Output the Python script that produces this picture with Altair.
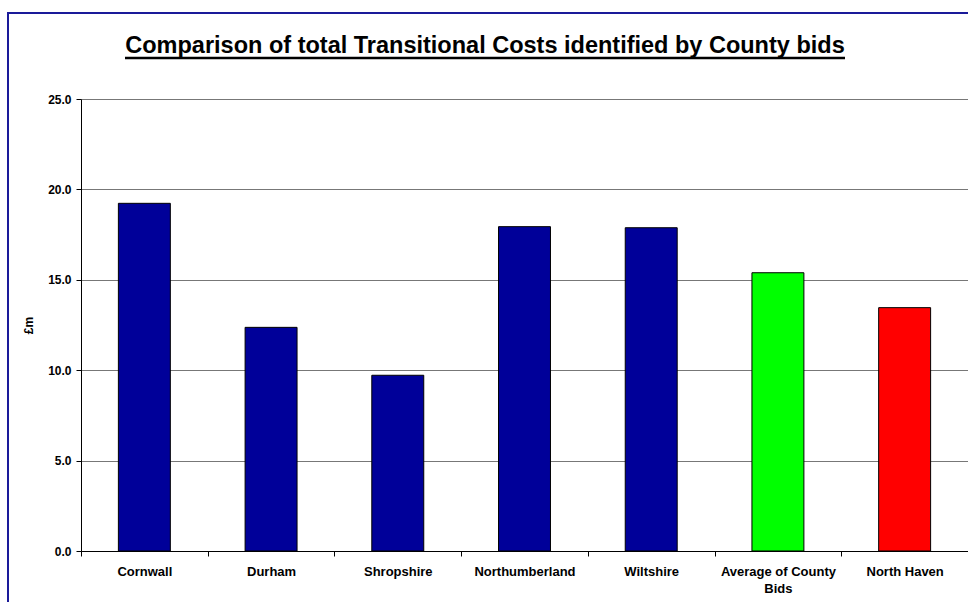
import altair as alt
import pandas as pd

categories = ["Cornwall", "Durham", "Shropshire", "Northumberland", "Wiltshire",
              "Average of County Bids", "North Haven"]
values = [19.23, 12.37, 9.72, 17.94, 17.88, 15.39, 13.46]
colors = ["#000099", "#000099", "#000099", "#000099", "#000099", "#00FF00", "#FF0000"]
y_ticks = [0, 5, 10, 15, 20, 25]
title_text = "Comparison of total Transitional Costs identified by County bids"

df = pd.DataFrame({"cat": categories, "val": values, "col": colors})
one = pd.DataFrame({"t": [title_text]})

FONT = "Liberation Sans"

bars = alt.Chart(df).mark_bar(stroke="black", strokeWidth=1, width={"band": 0.41}).encode(
    x=alt.X("cat:N", sort=categories, title=None,
            scale=alt.Scale(paddingInner=0, paddingOuter=0),
            axis=alt.Axis(tickBand="extent", labelAngle=0, labelFont=FONT, labelFontSize=13,
                          labelFontWeight="bold", labelColor="black", domainColor="black",
                          tickColor="black", tickSize=5, labelPadding=9, labelLineHeight=17,
                          labelLimit=200,
                          labelExpr="datum.value == 'Average of County Bids' ? ['Average of County', 'Bids'] : datum.value")),
    y=alt.Y("val:Q", title="£m",
            scale=alt.Scale(domain=[0, 25], nice=False),
            axis=alt.Axis(values=y_ticks, format=".1f", labelFont=FONT, labelFontSize=12,
                          labelFontWeight="bold", labelColor="black", domainColor="black",
                          tickColor="black", tickSize=5, labelPadding=5,
                          gridColor="#777777", gridWidth=1, gridOpacity=1,
                          titleFont=FONT, titleFontSize=12, titleFontWeight="bold",
                          titleColor="black", titlePadding=12)),
    color=alt.Color("col:N", scale=None),
)

title = alt.Chart(one).mark_text(font=FONT, fontSize=23.5, fontWeight="bold", color="black",
                                 align="center", baseline="alphabetic").encode(
    x=alt.value(404), y=alt.value(-46), text="t:N"
)

underline = alt.Chart(one).mark_rule(color="black", strokeWidth=2.5).encode(
    x=alt.value(44), x2=alt.value(764), y=alt.value(-41)
)

frame_top = alt.Chart(one).mark_rule(color="#1a1a99", strokeWidth=2).encode(
    x=alt.value(-73), x2=alt.value(900), y=alt.value(-86)
)
frame_left = alt.Chart(one).mark_rule(color="#1a1a99", strokeWidth=2).encode(
    x=alt.value(-73), y=alt.value(-87), y2=alt.value(520)
)

chart = alt.layer(bars, title, underline, frame_top, frame_left).properties(
    width=887, height=452,
    autosize=alt.AutoSizeParams(type="none"),
    padding={"left": 81, "top": 99, "right": 0, "bottom": 51},
).configure_view(stroke=None).configure(background="white")

chart.save("out.html", embed_options={"renderer": "svg", "actions": False})
